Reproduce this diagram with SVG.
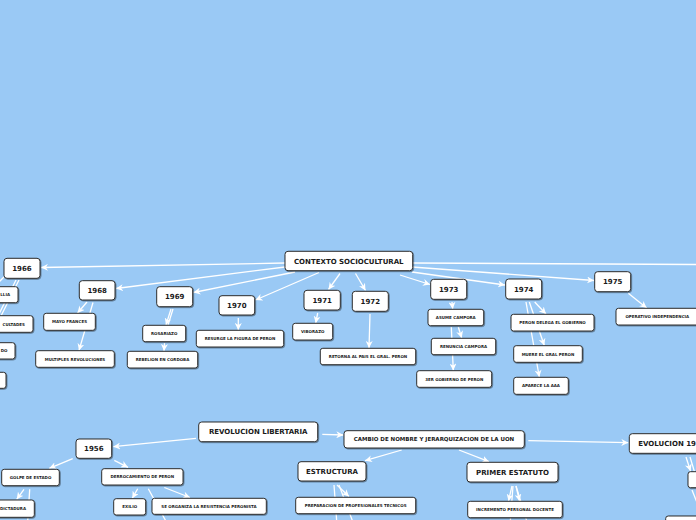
<svg xmlns="http://www.w3.org/2000/svg" width="696" height="520" viewBox="0 0 696 520">
<defs>
<style>
.n{fill:#fff;stroke:#2e2e2e;stroke-width:1;filter:url(#sh)}
.t{font-family:"DejaVu Sans",Verdana,sans-serif;font-weight:bold;fill:#1a1a1a;text-anchor:middle}
.b{font-size:7px}
.s{font-size:4px}
.m{font-size:5.5px}
.c line{stroke:#fff;stroke-width:1.3;fill:none}
.a{marker-end:url(#ar)}
</style>
<marker id="ar" markerUnits="userSpaceOnUse" markerWidth="7" markerHeight="7" viewBox="0 0 10 10" refX="10" refY="5" orient="auto">
<path d="M0,0 L10,5 L0,10 L3,5 z" fill="#fff"/>
</marker>
<filter id="sh" x="-10%" y="-20%" width="130%" height="160%">
<feDropShadow dx="0.8" dy="0.8" stdDeviation="0.5" flood-color="#000" flood-opacity="0.45"/>
</filter>
</defs>
<rect x="0" y="0" width="696" height="520" fill="#9ac9f5"/>
<g id="connectors" class="c">
<line class="a" x1="285" y1="263" x2="41" y2="267.5"/>
<line class="a" x1="285" y1="267" x2="116" y2="288.5"/>
<line class="a" x1="295" y1="272" x2="193.5" y2="292.5"/>
<line class="a" x1="319" y1="272.5" x2="255.5" y2="300"/>
<line class="a" x1="340" y1="273.5" x2="328.5" y2="289.5"/>
<line class="a" x1="355.5" y1="273.5" x2="365.5" y2="290.5"/>
<line class="a" x1="400" y1="275" x2="430" y2="284.5"/>
<line class="a" x1="412" y1="272" x2="505" y2="285"/>
<line class="a" x1="412" y1="267" x2="594" y2="280.5"/>
<line x1="412" y1="263" x2="700" y2="264.5"/>
<line x1="16" y1="280" x2="-3" y2="318"/>
<line x1="19" y1="280" x2="0" y2="318"/>
<line x1="4" y1="277" x2="-2" y2="283"/>
<line class="a" x1="87" y1="302" x2="77.5" y2="313"/>
<line class="a" x1="93" y1="302.5" x2="79" y2="350.5"/>
<line class="a" x1="171" y1="309" x2="166" y2="325"/>
<line x1="173" y1="309" x2="168" y2="325"/>
<line class="a" x1="164.5" y1="343" x2="164" y2="351"/>
<line class="a" x1="238.3" y1="318" x2="238.3" y2="330"/>
<line class="a" x1="317.7" y1="313" x2="315.7" y2="323"/>
<line class="a" x1="370" y1="314" x2="369" y2="348"/>
<line class="a" x1="452" y1="302" x2="452.7" y2="309"/>
<line class="a" x1="458.3" y1="327" x2="461.7" y2="338"/>
<line class="a" x1="451.3" y1="327" x2="453.3" y2="370.5"/>
<line class="a" x1="526" y1="302" x2="539.3" y2="377"/>
<line class="a" x1="529.3" y1="302" x2="544.3" y2="345.5"/>
<line class="a" x1="534.7" y1="302" x2="546" y2="314"/>
<line class="a" x1="628.3" y1="293.3" x2="646.7" y2="308"/>
<line class="a" x1="196" y1="438.3" x2="113.3" y2="446.7"/>
<line class="a" x1="322.3" y1="434.3" x2="343.3" y2="435"/>
<line class="a" x1="528.3" y1="440.7" x2="628.3" y2="442.7"/>
<line class="a" x1="401.7" y1="450" x2="365" y2="460.7"/>
<line class="a" x1="459" y1="450" x2="489" y2="461.7"/>
<line class="a" x1="72.7" y1="458.7" x2="49.3" y2="468.3"/>
<line class="a" x1="114.3" y1="460.3" x2="128" y2="467.3"/>
<line class="a" x1="24" y1="489.3" x2="16.7" y2="499.3"/>
<line x1="29.7" y1="489.3" x2="27.5" y2="525"/>
<line class="a" x1="137.7" y1="488.7" x2="132.3" y2="498.3"/>
<line x1="148.3" y1="488.7" x2="168" y2="525"/>
<line class="a" x1="164.3" y1="487.5" x2="190" y2="497.5"/>
<line x1="334" y1="485" x2="337" y2="525"/>
<line class="a" x1="337" y1="485" x2="349" y2="496.5"/>
<line x1="339" y1="485" x2="354" y2="525"/>
<line class="a" x1="512" y1="486" x2="508.5" y2="501"/>
<line class="a" x1="516" y1="486" x2="519.5" y2="501"/>
<line x1="513" y1="486" x2="510" y2="525"/>
<line x1="516" y1="486" x2="528" y2="525"/>
<line class="a" x1="686" y1="457" x2="690.5" y2="471"/>
<line x1="690" y1="457" x2="700" y2="490"/>
<line x1="692" y1="490" x2="700" y2="510"/>
</g>
<g id="contexto"><rect class="n" x="285" y="251.3" width="127.7" height="19.4" rx="3"/><text class="t b" x="348.8" y="263.5">CONTEXTO SOCIOCULTURAL</text></g>
<g id="y1966"><rect class="n" x="4" y="258.3" width="36" height="20" rx="3"/><text class="t b" x="22" y="270.8">1966</text></g>
<g id="illia"><rect class="n" x="-40" y="286.7" width="58" height="16" rx="2.5"/><text class="t s" style="text-anchor:end" x="10" y="296.2">LLIA</text></g>
<g id="facultades"><rect class="n" x="-40" y="315.7" width="73" height="16.6" rx="2.5"/><text class="t s" style="text-anchor:end" x="25" y="325.5">CULTADES</text></g>
<g id="do"><rect class="n" x="-40" y="342.7" width="55" height="16.3" rx="2.5"/><text class="t s" style="text-anchor:end" x="7.5" y="352.3">DO</text></g>
<g id="left4"><rect class="n" x="-40" y="372.3" width="46" height="16" rx="2.5"/></g>
<g id="y1968"><rect class="n" x="79.3" y="280.7" width="35.7" height="19.3" rx="3"/><text class="t b" x="97.2" y="292.8">1968</text></g>
<g id="mayo"><rect class="n" x="43.7" y="313.3" width="51.6" height="17" rx="2.5"/><text class="t s" x="69.5" y="323.3">MAYO FRANCES</text></g>
<g id="multiples"><rect class="n" x="35.7" y="350.7" width="78.6" height="16.6" rx="2.5"/><text class="t s" x="75" y="360.5">MULTIPLES REVOLUCIONES</text></g>
<g id="y1969"><rect class="n" x="156.7" y="286.7" width="36" height="20" rx="3"/><text class="t b" x="174.7" y="299.2">1969</text></g>
<g id="rosariazo"><rect class="n" x="142.7" y="325.3" width="43" height="16.4" rx="2.5"/><text class="t s" x="164.2" y="335">ROSARIAZO</text></g>
<g id="rebelion"><rect class="n" x="127.3" y="351.3" width="70.4" height="16.7" rx="2.5"/><text class="t s" x="162.5" y="361.2">REBELION EN CORDOBA</text></g>
<g id="y1970"><rect class="n" x="219" y="295.7" width="35.7" height="19.3" rx="3"/><text class="t b" x="236.8" y="307.8">1970</text></g>
<g id="resurge"><rect class="n" x="196.3" y="330.3" width="87.4" height="16.7" rx="2.5"/><text class="t s" x="240" y="340.2">RESURGE LA FIGURA DE PERON</text></g>
<g id="y1971"><rect class="n" x="304" y="290.3" width="36.3" height="19.7" rx="3"/><text class="t b" x="322.2" y="302.7">1971</text></g>
<g id="viborazo"><rect class="n" x="292.7" y="323.3" width="40" height="16.7" rx="2.5"/><text class="t s" x="312.7" y="333.2">VIBORAZO</text></g>
<g id="y1972"><rect class="n" x="352.3" y="291.3" width="36" height="20" rx="3"/><text class="t b" x="370.3" y="303.8">1972</text></g>
<g id="retorna"><rect class="n" x="320.3" y="348.3" width="95.4" height="16.4" rx="2.5"/><text class="t s" x="368" y="358">RETORNA AL PAIS EL GRAL. PERON</text></g>
<g id="y1973"><rect class="n" x="430.7" y="279.3" width="36" height="20" rx="3"/><text class="t b" x="448.7" y="291.8">1973</text></g>
<g id="asume"><rect class="n" x="428" y="309.3" width="55.7" height="16.4" rx="2.5"/><text class="t s" x="455.8" y="319">ASUME CAMPORA</text></g>
<g id="renuncia"><rect class="n" x="431.3" y="338.3" width="64.4" height="16.4" rx="2.5"/><text class="t s" x="463.5" y="348">RENUNCIA CAMPORA</text></g>
<g id="tercer"><rect class="n" x="416.7" y="370.7" width="75" height="16.6" rx="2.5"/><text class="t s" x="454.2" y="380.5">3ER GOBIERNO DE PERON</text></g>
<g id="y1974"><rect class="n" x="505.7" y="279" width="36" height="20" rx="3"/><text class="t b" x="523.7" y="291.5">1974</text></g>
<g id="delega"><rect class="n" x="511" y="314.3" width="83" height="16.7" rx="2.5"/><text class="t s" x="552.5" y="324.2">PERON DELEGA EL GOBIERNO</text></g>
<g id="muere"><rect class="n" x="513.7" y="345.7" width="68.6" height="16.6" rx="2.5"/><text class="t s" x="548" y="355.5">MUERE EL GRAL PERON</text></g>
<g id="aaa"><rect class="n" x="513.7" y="377.3" width="54.6" height="17" rx="2.5"/><text class="t s" x="541" y="387.3">APARECE LA AAA</text></g>
<g id="y1975"><rect class="n" x="594.7" y="271.7" width="36" height="20" rx="3"/><text class="t b" x="612.7" y="284.2">1975</text></g>
<g id="operativo"><rect class="n" x="616" y="308.3" width="90" height="16.7" rx="2.5"/><text class="t s" x="657.3" y="318.2">OPERATIVO INDEPENDENCIA</text></g>
<g id="revolucion"><rect class="n" x="198.7" y="422" width="119" height="19.7" rx="3"/><text class="t b" x="258.2" y="434.3">REVOLUCION LIBERTARIA</text></g>
<g id="y1956"><rect class="n" x="76" y="439" width="35.7" height="19.3" rx="3"/><text class="t b" x="93.8" y="451.2">1956</text></g>
<g id="golpe"><rect class="n" x="1.7" y="469.3" width="57.6" height="16.4" rx="2.5"/><text class="t s" x="30.5" y="479">GOLPE DE ESTADO</text></g>
<g id="dictadura"><rect class="n" x="-30" y="500" width="64.3" height="17.3" rx="2.5"/><text class="t s" style="text-anchor:end" x="26" y="510.1">DICTADURA</text></g>
<g id="derrocamiento"><rect class="n" x="101.7" y="468.7" width="81.3" height="16.3" rx="2.5"/><text class="t s" x="142.3" y="478.3">DERROCAMIENTO DE PERON</text></g>
<g id="exilio"><rect class="n" x="113.7" y="498.7" width="32" height="16.3" rx="2.5"/><text class="t s" x="129.7" y="508.3">EXILIO</text></g>
<g id="resistencia"><rect class="n" x="152" y="498.3" width="114.3" height="16" rx="2.5"/><text class="t s" x="209" y="507.8">SE ORGANIZA LA RESISTENCIA PERONISTA</text></g>
<g id="cambio"><rect class="n" x="344" y="430.7" width="180.3" height="17.3" rx="3"/><text class="t m" x="434" y="441.3">CAMBIO DE NOMBRE Y JERARQUIZACION DE LA UON</text></g>
<g id="estructura"><rect class="n" x="298" y="461.7" width="68" height="19.3" rx="3"/><text class="t b" x="332" y="473.8">ESTRUCTURA</text></g>
<g id="preparacion"><rect class="n" x="295.7" y="497.3" width="120" height="16.4" rx="2.5"/><text class="t s" x="355.7" y="507">PREPARACION DE PROFESIONALES TECNICOS</text></g>
<g id="estatuto"><rect class="n" x="467" y="462.3" width="91" height="19.7" rx="3"/><text class="t b" x="512.5" y="474.7">PRIMER ESTATUTO</text></g>
<g id="incremento"><rect class="n" x="467.7" y="501.3" width="94.6" height="16.4" rx="2.5"/><text class="t s" x="515" y="511">INCREMENTO PERSONAL DOCENTE</text></g>
<g id="evolucion"><rect class="n" x="629.3" y="433.7" width="90" height="19.6" rx="3"/><text class="t b" style="text-anchor:start" x="638.3" y="446">EVOLUCION 19</text></g>
<g id="right1"><rect class="n" x="688" y="471.7" width="30" height="16" rx="2.5"/></g>
<g id="right2"><rect class="n" x="665.7" y="516" width="50" height="16" rx="2.5"/></g>
</svg>
